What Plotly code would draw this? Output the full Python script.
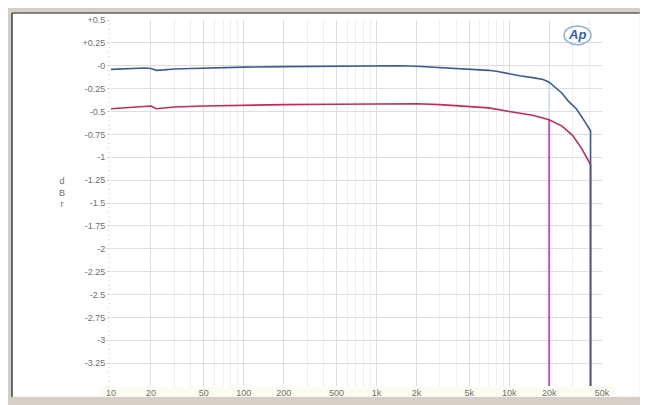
import plotly.graph_objects as go

# ---- data ----
freq_blue = [10, 12, 15, 18, 20, 22, 25, 30, 40, 50, 70, 100, 200, 500, 1000, 1500, 2000,
             3000, 4000, 5000, 6000, 7000, 8000, 10000, 12000, 15000, 18000, 20000,
             25000, 28000, 32000, 36000, 41000, 41000]
dbr_blue = [-0.04, -0.035, -0.03, -0.025, -0.03, -0.05, -0.045, -0.035, -0.03, -0.025, -0.02,
            -0.015, -0.01, -0.005, 0.0, 0.0, -0.005, -0.02, -0.03, -0.035, -0.04, -0.05, -0.06,
            -0.09, -0.11, -0.13, -0.15, -0.18, -0.30, -0.39, -0.47, -0.58, -0.71, -3.6]

freq_red = [10, 12, 15, 18, 20, 22, 25, 30, 50, 100, 200, 500, 1000, 2000, 3000, 5000, 7000,
            10000, 15000, 20000, 25000, 30000, 35000, 41000, 41000]
dbr_red = [-0.47, -0.46, -0.45, -0.44, -0.44, -0.47, -0.46, -0.45, -0.44, -0.43, -0.425, -0.42,
           -0.415, -0.415, -0.425, -0.445, -0.46, -0.50, -0.54, -0.59, -0.66, -0.76, -0.90,
           -1.08, -3.6]

freq_cut = [20000, 20000]
dbr_cut = [-0.59, -3.6]
freq_cut_hi = [20000, 20000]
dbr_cut_hi = [-0.18, -0.59]

x_tickvals = [10, 20, 50, 100, 200, 500, 1000, 2000, 5000, 10000, 20000, 50000]
x_ticktext = ["10", "20", "50", "100", "200", "500", "1k", "2k", "5k", "10k", "20k", "50k"]
y_tickvals = [0.5, 0.25, 0, -0.25, -0.5, -0.75, -1, -1.25, -1.5, -1.75, -2, -2.25, -2.5,
              -2.75, -3, -3.25]
y_ticktext = ["+0.5", "+0.25", "-0", "-0.25", "-0.5", "-0.75", "-1", "-1.25", "-1.5", "-1.75",
              "-2", "-2.25", "-2.5", "-2.75", "-3", "-3.25"]

# ---- figure ----
W, H = 648, 405
OFF = 8  # page body margin: design below is in window pixels, shifted by OFF
WL, WR, WT, WB = 111, 602, 15, 386  # plot area in window pixels
L, T = WL - OFF, WT - OFF
R, B = W - (WR - OFF), H - (WB - OFF)
pw, ph = WR - WL, WB - WT


def px(x):  # window pixel -> paper x
    return (x - WL) / pw


def py(y):  # window pixel -> paper y
    return (WB - y) / ph


fig = go.Figure()
fig.add_trace(go.Scatter(x=freq_cut_hi, y=dbr_cut_hi, mode="lines",
                         line=dict(color="#b4dcea", width=1.2), hoverinfo="skip"))
fig.add_trace(go.Scatter(x=freq_cut, y=dbr_cut, mode="lines",
                         line=dict(color="#bf44c8", width=1.8)))
fig.add_trace(go.Scatter(x=freq_red, y=dbr_red, mode="lines",
                         line=dict(color="#c02c55", width=1.6)))
fig.add_trace(go.Scatter(x=freq_blue, y=dbr_blue, mode="lines",
                         line=dict(color="#3d5a96", width=1.6)))

grid = "#dedede"
fig.update_xaxes(type="log", range=[1, 4.69897], tickvals=x_tickvals, ticktext=x_ticktext,
                 showgrid=True, gridcolor=grid, gridwidth=1,
                 minor=dict(dtick="D1", showgrid=True, gridcolor="#eeeeee", ticks=""),
                 ticks="", tickfont=dict(family="Arial, Liberation Sans", size=9, color="#707070"),
                 showline=False, zeroline=False, fixedrange=True)
fig.update_yaxes(range=[-3.5, 0.5], tickvals=y_tickvals, ticktext=y_ticktext,
                 showgrid=True, gridcolor=grid, gridwidth=1,
                 ticks="outside", ticklen=3, tickcolor="#d0d0d0",
                 minor=dict(dtick=0.05, ticks="outside", ticklen=2, tickcolor="#e4e4e4", showgrid=False),
                 tickfont=dict(family="Arial, Liberation Sans", size=9, color="#707070"),
                 showline=False, zeroline=False, fixedrange=True)

shapes = [
    # white panel
    dict(type="rect", xref="paper", yref="paper", x0=px(12), x1=px(640), y0=py(397), y1=py(8),
         fillcolor="white", line=dict(width=0), layer="below"),
    # cream band under x tick labels
    dict(type="rect", xref="paper", yref="paper", x0=px(100), x1=px(615), y0=py(397), y1=py(387),
         fillcolor="#fbfbef", line=dict(width=0), layer="below"),
    # panel borders (inset look)
    dict(type="line", xref="paper", yref="paper", x0=px(12), x1=px(12), y0=py(397), y1=py(8),
         line=dict(color="#404040", width=1.5)),
    dict(type="line", xref="paper", yref="paper", x0=px(12), x1=px(640), y0=py(8), y1=py(8),
         line=dict(color="#606060", width=1.5)),
    dict(type="line", xref="paper", yref="paper", x0=px(640), x1=px(640), y0=py(397), y1=py(8),
         line=dict(color="#f0f0f0", width=1)),
    # AP logo swoosh
    dict(type="circle", xref="paper", yref="paper", x0=px(564), x1=px(591), y0=py(40), y1=py(21),
         line=dict(color="#8ab0dc", width=1.5)),
]

annotations = [
    dict(text="d<br>B<br>r", xref="paper", yref="paper", x=px(57), y=py(190), showarrow=False,
         font=dict(family="Arial, Liberation Sans", size=9, color="#707070"), align="center"),
    dict(text="<b><i>Ap</i></b>", xref="paper", yref="paper", x=px(577), y=py(30), showarrow=False,
         xanchor="center", yanchor="middle",
         font=dict(family="Arial, Liberation Sans", size=13, color="#2f64b4")),
]

fig.update_layout(width=W, height=H, margin=dict(l=L, r=R, t=T, b=B, pad=0),
                  paper_bgcolor="#d4d0c8", plot_bgcolor="white", showlegend=False,
                  shapes=shapes, annotations=annotations)

fig.write_html("out.html")
